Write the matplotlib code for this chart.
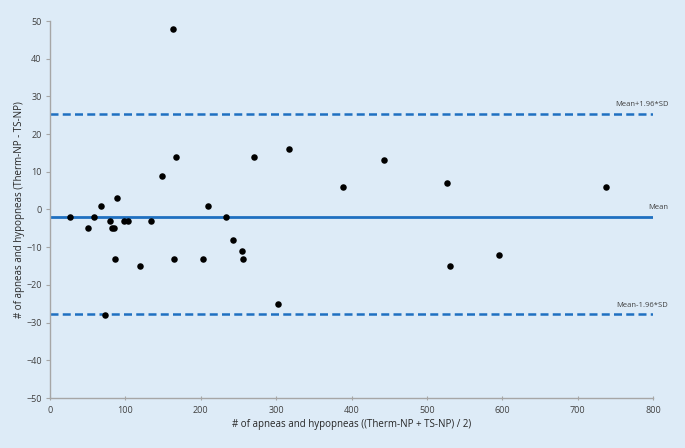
import matplotlib
matplotlib.use("Agg")
import matplotlib.pyplot as plt

# Data
mean_vals = [27, 50, 59, 68, 80, 82, 85, 89, 86, 73, 98, 103, 119, 133.5, 148, 163, 167, 164,
             202.5, 209, 233, 243, 254.6, 256, 270, 317, 302, 389, 443, 526.5, 531, 596, 738]
diff_vals = [-2, -5, -2, 1, -3, -5, -5, 3, -13, -28, -3, -3, -15, -3, 9, 48, 14, -13,
             -13, 1, -2, -8, -11, -13, 14, 16, -25, 6, 13, 7, -15, -12, 6]
mean_diff = -1.9
upper_loa = 25.4
lower_loa = -27.8
line_labels = ["Mean+1.96*SD", "Mean", "Mean-1.96*SD"]
xticks = list(range(0, 801, 100))
yticks = list(range(-50, 51, 10))

bg = "#DDEBF7"
blue = "#1F70C1"
plt.rcParams['font.family'] = ['Open Sans', 'DejaVu Sans']

fig = plt.figure(figsize=(6.85, 4.48), dpi=100, facecolor=bg)
ax = fig.add_axes([50/685, 1-398/448, 603/685, 377/448])
ax.set_facecolor(bg)

ax.axhline(mean_diff, color=blue, lw=2.0, zorder=1)
ax.axhline(upper_loa, color=blue, lw=1.8, ls=(0, (3.2, 1.7)), zorder=1)
ax.axhline(lower_loa, color=blue, lw=1.8, ls=(0, (3.2, 1.7)), zorder=1)
ax.scatter(mean_vals, diff_vals, s=22, color="black", zorder=3, linewidths=0)

ax.set_xlim(0, 800)
ax.set_ylim(-50, 50)
ax.set_xticks(xticks)
ax.set_yticks(yticks)
ax.tick_params(labelsize=6.5, colors="#A6A6A6", labelcolor="#404040", length=3, width=0.8)
ax.tick_params(axis='y', pad=3)
ax.tick_params(axis='x', direction='inout', length=3, pad=4)
for s in ["top", "right"]:
    ax.spines[s].set_visible(False)
for s in ["left", "bottom"]:
    ax.spines[s].set_color("#A6A6A6")
    ax.spines[s].set_linewidth(1.0)

ax.set_xlabel("# of apneas and hypopneas ((Therm-NP + TS-NP) / 2)", fontsize=7, color="#262626", labelpad=3)
ax.set_ylabel("# of apneas and hypopneas (Therm-NP - TS-NP)", fontsize=7, color="#262626", labelpad=1)

for lbl, yv in zip(line_labels, [upper_loa, mean_diff, lower_loa]):
    ax.annotate(lbl, xy=(1.0, yv), xycoords=('axes fraction', 'data'), xytext=(11, 4),
                textcoords='offset points', ha='right', va='bottom', fontsize=5.5, color="#404040",
                annotation_clip=False)

fig.savefig("out.png", dpi=100, facecolor=bg)
